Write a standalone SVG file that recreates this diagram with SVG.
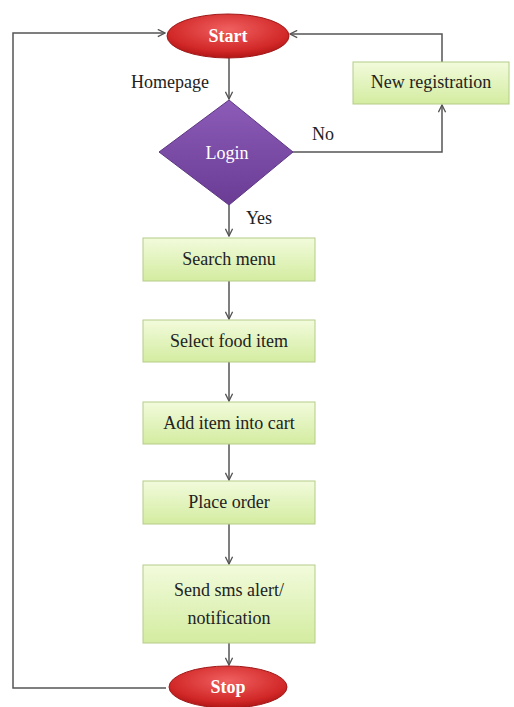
<svg xmlns="http://www.w3.org/2000/svg" width="514" height="707" viewBox="0 0 514 707">
<defs>
<linearGradient id="gGreen" x1="0" y1="0" x2="0" y2="1"><stop offset="0" stop-color="#f2fbdc"/><stop offset="1" stop-color="#d3eca0"/></linearGradient>
<radialGradient id="gRed" cx="0.5" cy="0.35" r="0.7"><stop offset="0" stop-color="#f06060"/><stop offset="0.7" stop-color="#d22828"/><stop offset="1" stop-color="#a81010"/></radialGradient>
<linearGradient id="gPurple" x1="0" y1="0" x2="0" y2="1"><stop offset="0" stop-color="#8c5cb8"/><stop offset="1" stop-color="#6a3c94"/></linearGradient>
<marker id="arr" viewBox="0 0 10 10" refX="9" refY="5" markerWidth="9" markerHeight="9" orient="auto" markerUnits="userSpaceOnUse"><path d="M1,1 L9,5 L1,9" fill="none" stroke="#555" stroke-width="1.5"/></marker>
</defs>
<style>
.box{fill:url(#gGreen);stroke:#b5cc8a;stroke-width:1}
.t{font-family:"Liberation Serif","Times New Roman",serif;font-size:18px;fill:#222;text-anchor:middle}
.w{fill:#fff;font-weight:bold}
.c{fill:none;stroke:#555;stroke-width:1.5}
</style>
<rect width="514" height="707" fill="#fff"/>
<g id="connectors">
<path class="c" d="M166,688 H13 V33 H165" marker-end="url(#arr)"/>
<path class="c" d="M442,62 V34 H290" marker-end="url(#arr)"/>
<path class="c" d="M229,58 V99" marker-end="url(#arr)"/>
<path class="c" d="M293,152 H442 V105" marker-end="url(#arr)"/>
<path class="c" d="M229,205 V236" marker-end="url(#arr)"/>
<path class="c" d="M229,281 V319" marker-end="url(#arr)"/>
<path class="c" d="M229,362 V401" marker-end="url(#arr)"/>
<path class="c" d="M229,444 V480" marker-end="url(#arr)"/>
<path class="c" d="M229,524 V564" marker-end="url(#arr)"/>
<path class="c" d="M229,643 V665" marker-end="url(#arr)"/>
<text class="t" x="170" y="88">Homepage</text>
<text class="t" x="323" y="140">No</text>
<text class="t" x="259" y="224">Yes</text>
</g>
<g id="start"><ellipse cx="228" cy="36" rx="61" ry="22" fill="url(#gRed)" stroke="#a01818" stroke-width="1"/><text class="t w" x="228" y="42">Start</text></g>
<g id="login"><polygon points="229,100 293,152 229,205 159,152" fill="url(#gPurple)" stroke="#5e3684" stroke-width="1"/><text class="t w" x="227" y="159" style="font-weight:normal">Login</text></g>
<g id="newreg"><rect class="box" x="353" y="62" width="156" height="42"/><text class="t" x="431" y="88">New registration</text></g>
<g id="search"><rect class="box" x="143" y="238" width="172" height="43"/><text class="t" x="229" y="265">Search menu</text></g>
<g id="select"><rect class="box" x="143" y="320" width="172" height="42"/><text class="t" x="229" y="347">Select food item</text></g>
<g id="addcart"><rect class="box" x="143" y="402" width="172" height="42"/><text class="t" x="229" y="429">Add item into cart</text></g>
<g id="place"><rect class="box" x="143" y="481" width="172" height="43"/><text class="t" x="229" y="508">Place order</text></g>
<g id="sms"><rect class="box" x="143" y="565" width="172" height="78"/><text class="t" x="229" y="596">Send sms alert/</text><text class="t" x="229" y="624">notification</text></g>
<g id="stop"><ellipse cx="228" cy="687" rx="59" ry="21" fill="url(#gRed)" stroke="#a01818" stroke-width="1"/><text class="t w" x="228" y="693">Stop</text></g>
</svg>
